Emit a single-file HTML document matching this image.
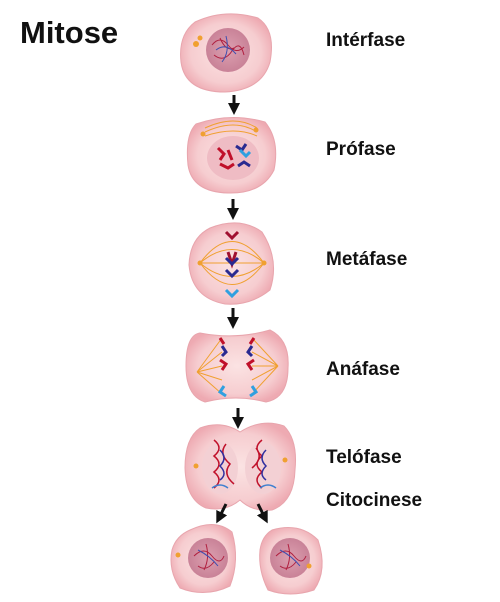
<!DOCTYPE html>
<html><head><meta charset="utf-8"><style>
body{margin:0;background:#fff}
svg{display:block}
text{font-family:"Liberation Sans",sans-serif;font-weight:bold;fill:#111}
</style></head><body>
<svg width="500" height="602" viewBox="0 0 500 602">
<defs>
<radialGradient id="cg" cx="50%" cy="50%" r="55%"><stop offset="0" stop-color="#fbe3e3"/><stop offset="0.7" stop-color="#f6cdd0"/><stop offset="1" stop-color="#eeaab2"/></radialGradient>
<radialGradient id="ng" cx="50%" cy="50%" r="55%"><stop offset="0" stop-color="#dca0b0"/><stop offset="1" stop-color="#c77f95"/></radialGradient>
<marker id="ah" markerWidth="4" markerHeight="4" refX="2" refY="2" orient="auto"><path d="M0,0 L4,2 L0,4z" fill="#111"/></marker>
</defs>
<text x="20" y="43" font-size="31">Mitose</text>

<g>
<path d="M195,22 Q225,8 258,18 Q276,30 270,62 Q262,90 225,92 Q185,92 181,62 Q178,35 195,22z" fill="url(#cg)" stroke="#e8a5ad"/>
<circle cx="228" cy="50" r="22" fill="url(#ng)"/>
<path d="M212,45 q8,-10 16,0 t16,2 M214,55 q10,8 18,-4 t12,4 M220,38 q6,14 14,10" stroke="#b02040" fill="none" stroke-width="1"/>
<path d="M216,50 q10,-8 20,4 M226,36 q4,16 -4,26" stroke="#4050b0" fill="none" stroke-width="1"/>
<circle cx="196" cy="44" r="3" fill="#f0a030"/><circle cx="200" cy="38" r="2.5" fill="#f0a030"/>
</g>
<text x="326" y="46" font-size="19">Intérfase</text>

<g>
<path d="M196,124 Q230,112 265,122 Q280,140 274,170 Q262,194 228,193 Q192,192 188,165 Q185,135 196,124z" fill="url(#cg)" stroke="#e8a5ad"/>
<ellipse cx="233" cy="158" rx="26" ry="22" fill="#efbcc4"/>
<path d="M205,132 q30,-14 52,0 M205,136 q30,-10 52,0 M205,128 q30,-14 52,0" stroke="#f0a030" fill="none" stroke-width="1"/>
<circle cx="203" cy="134" r="2.5" fill="#f0a030"/><circle cx="256" cy="130" r="2.5" fill="#f0a030"/>
<path d="M218,148 l6,6 l-4,6 M228,150 l4,10 M220,164 l8,4 l6,-4" stroke="#c0102a" stroke-width="3" fill="none"/>
<path d="M236,146 l6,4 l4,-6 M238,166 l6,-4 l6,4" stroke="#2a2a90" stroke-width="3" fill="none"/>
<path d="M240,150 l6,6 l4,-4" stroke="#30a0e0" stroke-width="3" fill="none"/>
</g>
<text x="326" y="155" font-size="19">Prófase</text>

<g>
<path d="M210,228 Q240,216 262,232 Q280,260 270,290 Q250,306 225,304 Q192,298 189,265 Q190,238 210,228z" fill="url(#cg)" stroke="#e8a5ad"/>
<path d="M200,263 Q232,220 264,263 M200,263 Q232,236 264,263 M200,263 Q232,290 264,263 M200,263 Q232,306 264,263 M200,263 L264,263" stroke="#f0a030" fill="none" stroke-width="1"/>
<circle cx="200" cy="263" r="2.5" fill="#f0a030"/><circle cx="264" cy="263" r="2.5" fill="#f0a030"/>
<path d="M226,232 l6,6 l6,-6 M228,252 l4,12 l4,-12" stroke="#a01030" stroke-width="3" fill="none"/>
<path d="M226,258 l6,6 l6,-6 M226,270 l6,6 l6,-6" stroke="#2a2a90" stroke-width="3" fill="none"/>
<path d="M226,290 l6,6 l6,-6" stroke="#30a0e0" stroke-width="3" fill="none"/>
</g>
<text x="326" y="265" font-size="19">Metáfase</text>

<g>
<path d="M200,333 Q236,340 270,330 Q290,340 288,368 Q288,398 266,402 Q236,394 205,402 Q186,396 186,366 Q186,335 200,333z" fill="url(#cg)" stroke="#e8a5ad"/>
<path d="M197,372 L222,338 M197,372 L222,352 M197,372 L222,366 M197,372 L222,380 M197,372 L222,394 M278,366 L252,338 M278,366 L252,352 M278,366 L252,366 M278,366 L252,380 M278,366 L252,394" stroke="#f0a030" stroke-width="1"/>
<path d="M220,338 l4,6 M220,360 l6,4 l-4,6" stroke="#c0102a" stroke-width="3" fill="none"/>
<path d="M222,346 l4,6 l-4,4 M252,346 l-4,6 l4,4" stroke="#2a2a90" stroke-width="3" fill="none"/>
<path d="M254,338 l-4,6 M254,360 l-6,4 l4,6" stroke="#c0102a" stroke-width="3" fill="none"/>
<path d="M224,386 l-4,6 l6,4 M252,386 l4,6 l-6,4" stroke="#30a0e0" stroke-width="3" fill="none"/>
</g>
<text x="326" y="375" font-size="19">Anáfase</text>

<g>
<path d="M200,428 Q222,420 240,432 Q262,418 284,426 Q298,440 295,470 Q294,502 272,510 Q252,512 240,500 Q226,512 206,508 Q186,500 185,468 Q185,438 200,428z" fill="url(#cg)" stroke="#e8a5ad"/>
<ellipse cx="220" cy="468" rx="18" ry="26" fill="#f3d0d4"/><ellipse cx="263" cy="468" rx="18" ry="26" fill="#f3d0d4"/>
<path d="M214,440 q10,8 0,16 q10,8 0,16 q10,8 0,16 M226,444 q-8,10 4,20 q-8,10 4,20" stroke="#c0102a" stroke-width="1.5" fill="none"/>
<path d="M220,450 q8,8 0,16 q8,8 0,14" stroke="#3030a0" stroke-width="1.5" fill="none"/>
<path d="M262,440 q-10,8 0,16 q-10,8 0,16 q-10,8 0,16 M256,448 q8,10 -4,20" stroke="#c0102a" stroke-width="1.5" fill="none"/>
<path d="M266,450 q-8,8 0,16 q-8,8 0,14" stroke="#3030a0" stroke-width="1.5" fill="none"/>
<path d="M212,488 q8,-6 16,0 M260,488 q8,-6 16,0" stroke="#4080d0" stroke-width="1.5" fill="none"/>
<circle cx="196" cy="466" r="2.5" fill="#f0a030"/><circle cx="285" cy="460" r="2.5" fill="#f0a030"/>
</g>
<text x="326" y="463" font-size="19">Telófase</text>
<text x="326" y="506" font-size="19">Citocinese</text>

<g>
<path d="M190,530 Q215,518 232,532 Q240,560 230,586 Q205,598 180,588 Q168,570 172,550 Q176,536 190,530z" fill="url(#cg)" stroke="#e8a5ad"/>
<circle cx="208" cy="558" r="20" fill="url(#ng)"/>
<path d="M194,556 q10,-10 18,0 t12,0 M198,566 q8,6 16,-4 M206,544 q4,14 -2,26" stroke="#b02040" fill="none"/>
<path d="M198,550 q12,6 20,16" stroke="#4050b0" fill="none"/>
<circle cx="178" cy="555" r="2.5" fill="#f0a030"/>
</g>
<g>
<path d="M272,530 Q300,522 318,540 Q328,570 314,590 Q290,598 268,590 Q258,570 260,550 Q262,536 272,530z" fill="url(#cg)" stroke="#e8a5ad"/>
<circle cx="290" cy="558" r="20" fill="url(#ng)"/>
<path d="M276,556 q10,-10 18,0 t12,0 M280,566 q8,6 16,-4 M288,544 q4,14 -2,26" stroke="#b02040" fill="none"/>
<path d="M280,550 q12,6 20,16" stroke="#4050b0" fill="none"/>
<circle cx="309" cy="566" r="2.5" fill="#f0a030"/>
</g>

<g stroke="#111" stroke-width="3" fill="none" marker-end="url(#ah)">
<line x1="234" y1="95" x2="234" y2="109"/>
<line x1="233" y1="199" x2="233" y2="214"/>
<line x1="233" y1="308" x2="233" y2="323"/>
<line x1="238" y1="408" x2="238" y2="423"/>
<line x1="226" y1="504" x2="219" y2="518"/>
<line x1="258" y1="504" x2="265" y2="518"/>
</g>
</svg>
</body></html>
